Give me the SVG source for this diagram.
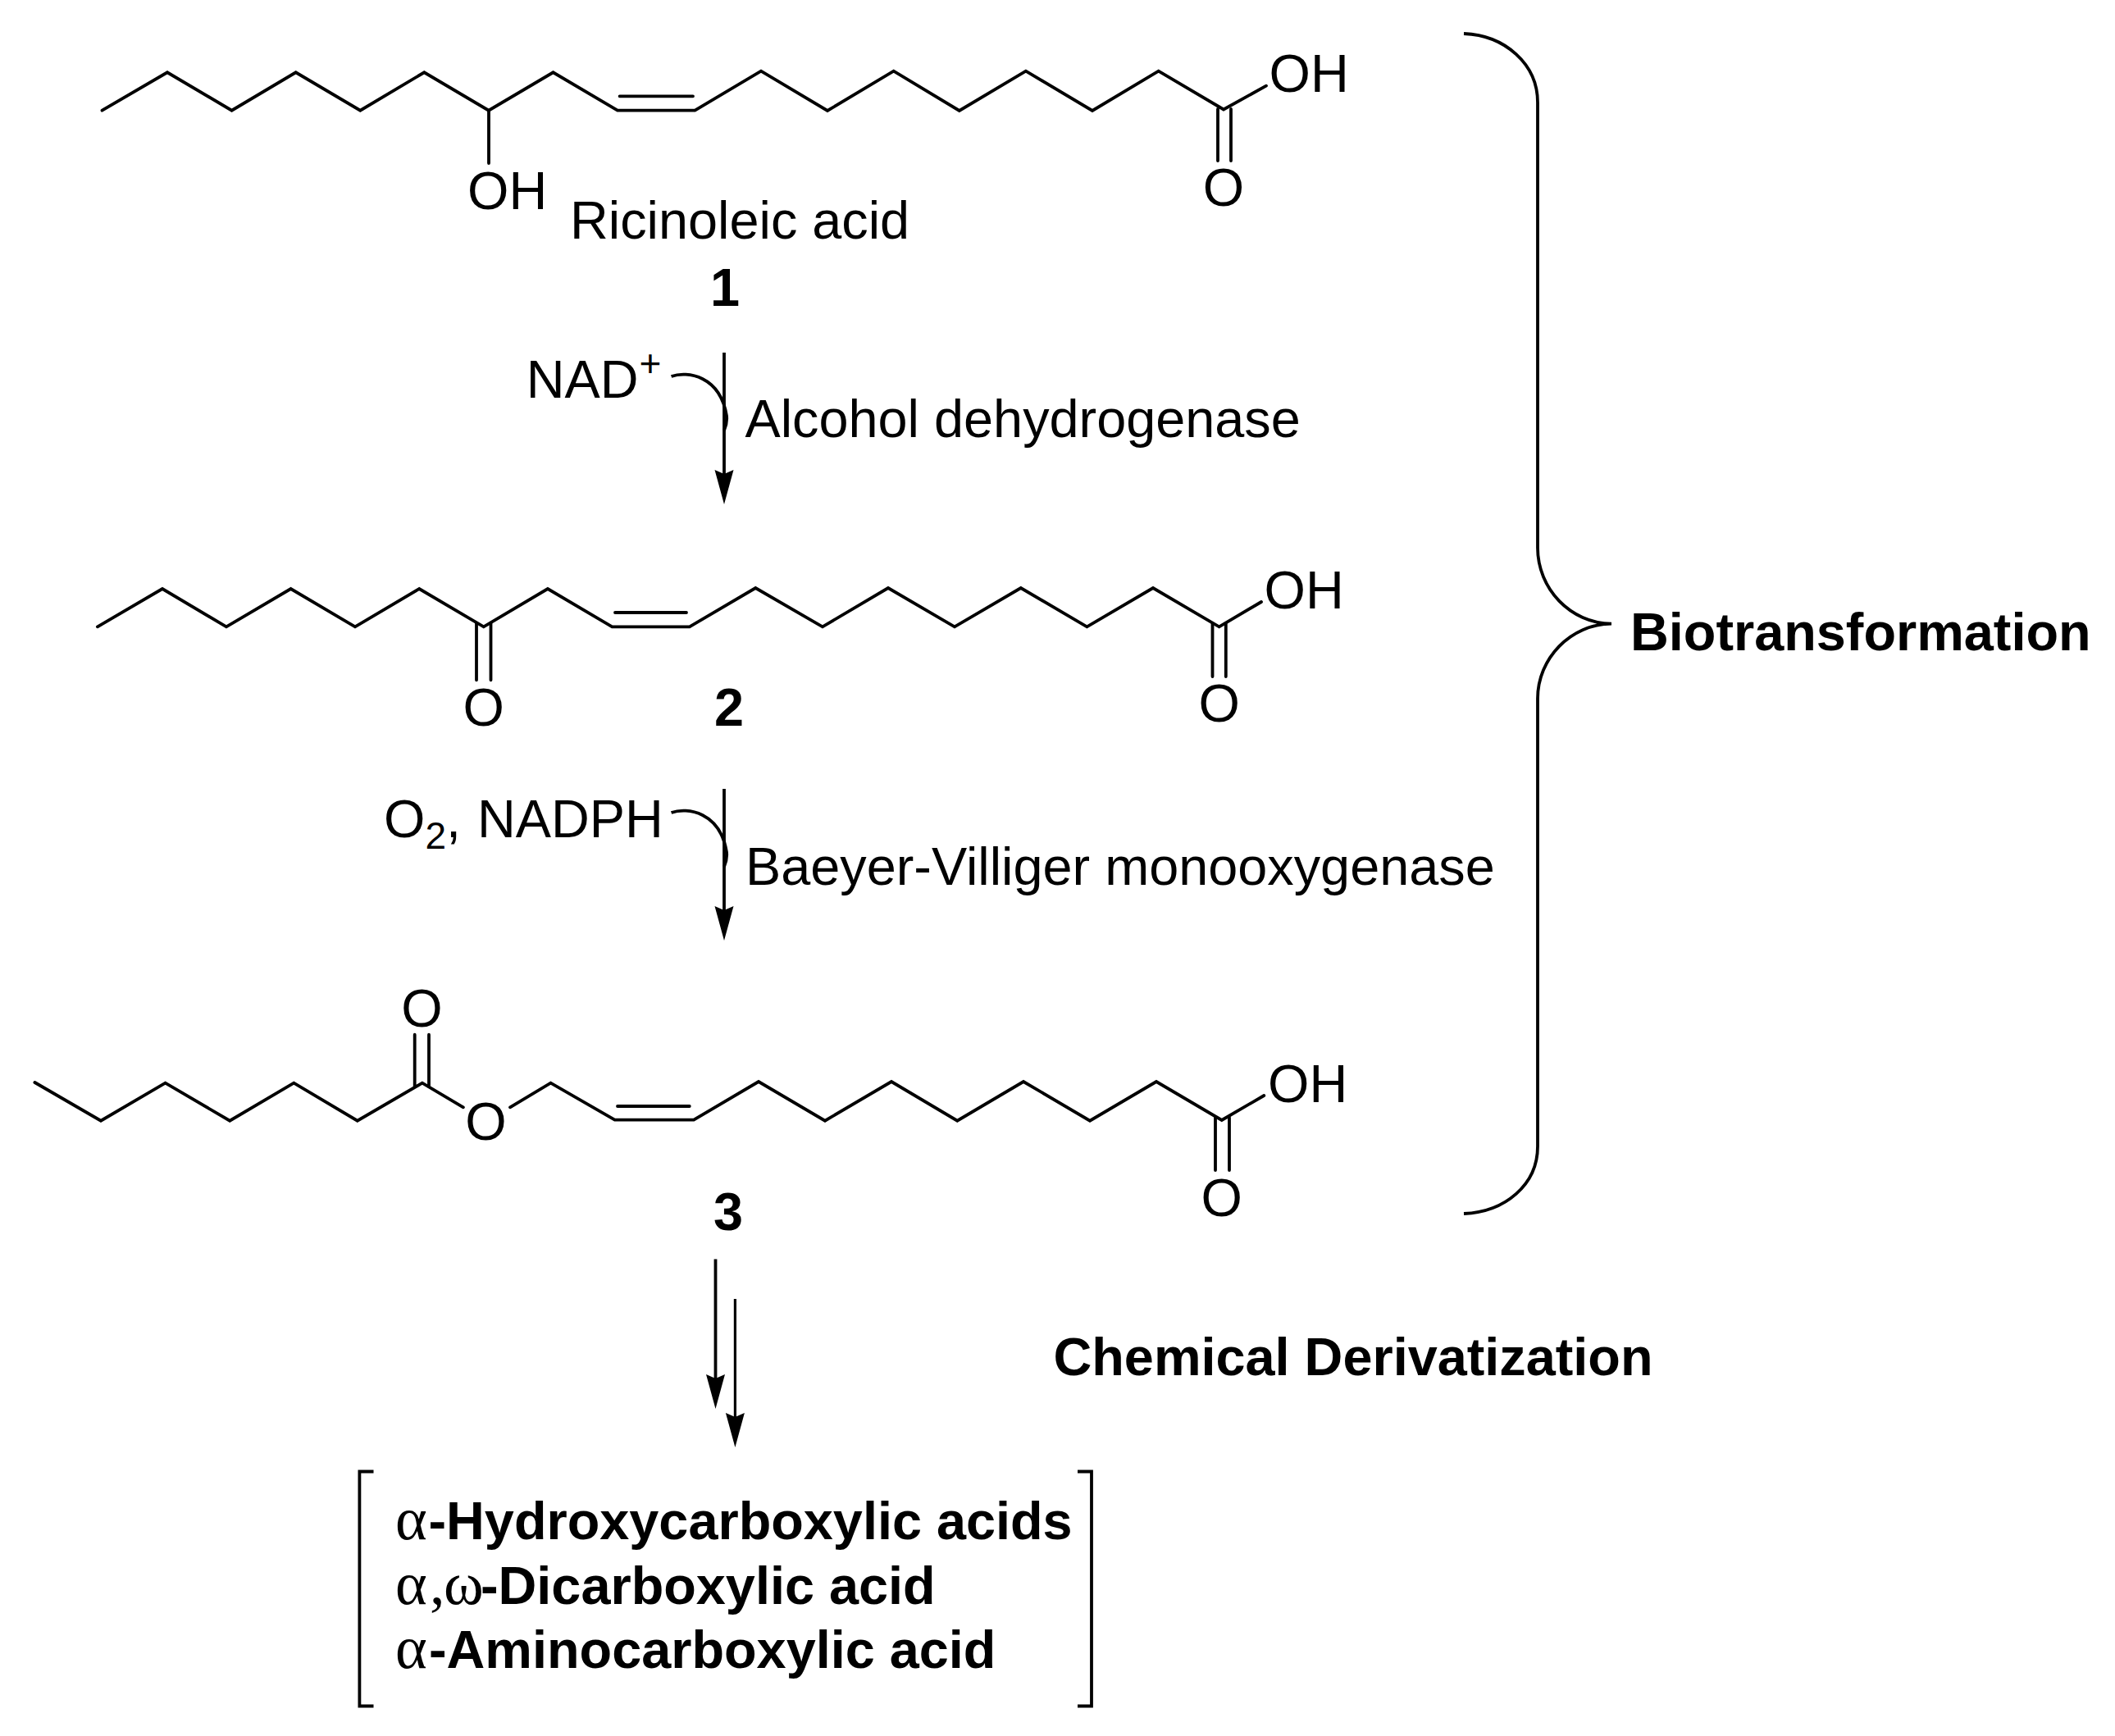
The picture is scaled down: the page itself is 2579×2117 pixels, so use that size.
<svg xmlns="http://www.w3.org/2000/svg" width="2579" height="2117" viewBox="0 0 2579 2117">
<defs>
<style>
.b{fill:none;stroke:#000;stroke-width:3.8;stroke-linejoin:miter;stroke-linecap:round}
.t{font-family:"Liberation Sans",Arial,sans-serif;font-size:64.8px;fill:#000}
.bd{font-weight:bold}
.g{font-family:"Liberation Serif","Times New Roman",serif;font-weight:normal;font-size:74px}
.s{font-size:46px}
.a{fill:none;stroke:#000;stroke-width:3.8;marker-end:url(#head)}
.c{fill:none;stroke:#000;stroke-width:3.8}
.m{text-anchor:middle}
</style>
<marker id="head" markerUnits="userSpaceOnUse" markerWidth="42" markerHeight="24" refX="5" refY="12" orient="auto" overflow="visible">
<path d="M0 0.5 L42 12 L0 23.5 L5 12 Z" fill="#000"/>
</marker>
</defs>
<rect width="2579" height="2117" fill="#fff"/>
<g id="compound-1">
<path class="b" d="M124.5 134.7L204 88.3L282.6 134.7L360.7 88.3L439.3 134.7L517.3 88.3L595.9 134.7L674.5 88.3L753 134.7L847.4 134.7L928 86.7L1009 135L1089.7 86.7L1169.8 135L1250.9 86.7L1332 135L1412.7 86.7L1492 133.5L1544 104.7"/>
<path class="b" d="M755.6 117.3H845M596 134.7V199M1485 133V196M1501 133V196"/>
<text class="t" x="570" y="254.7">OH</text>
<text class="t m" x="1492" y="251">O</text>
<text class="t" x="1547.5" y="111.7">OH</text>
<text class="t" x="695" y="290.7">Ricinoleic acid</text>
<text class="t bd" x="866" y="373">1</text>
</g>
<g id="compound-2">
<path class="b" d="M118.9 764.3L198 718L276 764.3L354.6 718L433 764.3L511.2 718L589.8 764.3L667.9 718L746.4 764.3L840.8 764.3L921.3 717L1003 764.3L1083 717L1164 764.3L1244.8 717L1325.4 764.3L1406 717L1486.6 764.3L1538 734"/>
<path class="b" d="M750 747H837M581 760V829.3M598.5 760V829.3M1478.5 760V825M1494.8 760V825"/>
<text class="t m" x="589.8" y="884.5">O</text>
<text class="t m" x="1486.6" y="880">O</text>
<text class="t" x="1541.5" y="742">OH</text>
<text class="t bd" x="871" y="885">2</text>
</g>
<g id="compound-3">
<path class="b" d="M42.4 1320L123 1366.7L201.6 1320.7L280.2 1366.7L358.3 1320.7L435.8 1366.7L514.9 1320.7L564.9 1350.3"/>
<path class="b" d="M622 1350.3L671.5 1320.7L749.6 1365.7L846 1365.7L925 1319L1006 1366.7L1087 1319L1167.3 1366.7L1248 1319L1329 1366.7L1410 1319L1489.8 1366L1541.3 1336"/>
<path class="b" d="M753 1349H840.8M505.7 1261.7V1325M523 1261.7V1325M1482 1362.7V1427M1499 1362.7V1427"/>
<text class="t m" x="514.4" y="1252">O</text>
<text class="t m" x="592.4" y="1390">O</text>
<text class="t m" x="1489.8" y="1483">O</text>
<text class="t" x="1546" y="1343.5">OH</text>
<text class="t bd" x="870" y="1500">3</text>
</g>
<g id="reagent-1">
<text class="t" x="641.7" y="484.7">NAD</text>
<text class="t s" x="779.5" y="459">+</text>
<text class="t" x="908.5" y="533.3">Alcohol dehydrogenase</text>
</g>
<g id="reagent-2">
<text class="t" x="468" y="1021.3">O<tspan class="s" dy="14">2</tspan><tspan dy="-14" x="544">,</tspan><tspan x="582">NADPH</tspan></text>
<text class="t" x="909" y="1079.3">Baeyer-Villiger monooxygenase</text>
</g>
<g id="labels">
<text class="t bd" x="1988" y="792.5">Biotransformation</text>
<text class="t bd" x="1284.5" y="1677">Chemical Derivatization</text>
</g>
<g id="products">
<path class="c" d="M455.5 1794.5H438.4V2080.5H455.5M1314 1794.5H1331V2080.5H1314"/>
<text class="t bd" y="1876.6"><tspan class="g" x="482">α</tspan><tspan x="522.5">-Hydroxycarboxylic acids</tspan></text>
<text class="t bd" y="1955.5"><tspan class="g" x="482">α</tspan><tspan class="g" x="524">,</tspan><tspan class="g" x="541">ω</tspan><tspan x="586">-Dicarboxylic acid</tspan></text>
<text class="t bd" y="2034"><tspan class="g" x="482">α</tspan><tspan x="523">-Aminocarboxylic acid</tspan></text>
</g>
<g id="connectors">
<path class="a" d="M883 430V578"/>
<path class="c" d="M818.6 459C838 452 878 458 886 507Q887 516 883 525"/>
<path class="a" d="M883 962V1110"/>
<path class="c" d="M818.6 991C838 984 878 990 886 1039Q887 1048 883 1057"/>
<path class="a" d="M872.5 1535.5V1681"/>
<path class="a" style="stroke-width:3.2" d="M896.4 1584V1728"/>
<path class="c" d="M1785 41C1835 43 1875 78 1875 125L1875 668C1875 718 1915 760 1965 760.6C1915 761 1875 803 1875 852L1875 1398C1875 1445 1835 1478 1785 1480"/>
</g>
</svg>
